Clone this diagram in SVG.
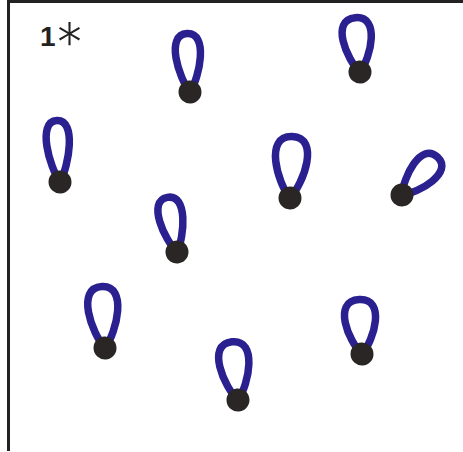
<svg xmlns="http://www.w3.org/2000/svg" width="463" height="452" viewBox="0 0 463 452">
<style>
.loop{fill:none;stroke:#2a2090;stroke-width:7.5;stroke-linecap:round;stroke-linejoin:round}
.dot{fill:#2a2626}
.frame{stroke:#222;stroke-width:3;fill:none}
</style>
<rect width="463" height="452" fill="#ffffff"/>
<g id="frame">
<line class="frame" x1="8.5" y1="0" x2="8.5" y2="451"/>
<line class="frame" x1="7" y1="1.5" x2="463" y2="1.5"/>
</g>
<text x="40" y="46" font-family="Liberation Sans, Arial, sans-serif" font-weight="bold" font-size="28" fill="#222">1<tspan font-family="Inter, sans-serif" font-weight="200" font-size="56" dy="17">*</tspan></text>
<g id="loop1" transform="translate(190,92) rotate(-3)">
<path class="loop" d="M0,0 C-10.5,-14.6 -22,-58.5 0,-58.5 C22,-58.5 10.5,-14.6 0,0"/>
<circle class="dot" cx="0" cy="0" r="11.5"/>
</g>
<g id="loop2" transform="translate(360,72) rotate(-5)">
<path class="loop" d="M0,0 C-12.2,-13.6 -25.4,-54.5 0,-54.5 C25.4,-54.5 12.2,-13.6 0,0"/>
<circle class="dot" cx="0" cy="0" r="11.5"/>
</g>
<g id="loop3" transform="translate(402,195) rotate(43)">
<path class="loop" d="M0,0 C-10.9,-13 -22.8,-52 0,-52 C22.8,-52 10.9,-13 0,0"/>
<circle class="dot" cx="0" cy="0" r="11.5"/>
</g>
<g id="loop4" transform="translate(60,182) rotate(-3)">
<path class="loop" d="M0,0 C-9.7,-15.4 -20.2,-61.5 0,-61.5 C20.2,-61.5 9.7,-15.4 0,0"/>
<circle class="dot" cx="0" cy="0" r="11.5"/>
</g>
<g id="loop5" transform="translate(290,198) rotate(2)">
<path class="loop" d="M0,0 C-13.4,-15.4 -28.1,-61.5 0,-61.5 C28.1,-61.5 13.4,-15.4 0,0"/>
<circle class="dot" cx="0" cy="0" r="11.5"/>
</g>
<g id="loop6" transform="translate(177,252) rotate(-10)">
<path class="loop" d="M0,0 C-10.1,-13.9 -21.1,-55.5 0,-55.5 C21.1,-55.5 10.1,-13.9 0,0"/>
<circle class="dot" cx="0" cy="0" r="11.5"/>
</g>
<g id="loop7" transform="translate(105,348) rotate(-3)">
<path class="loop" d="M0,0 C-12.6,-15.4 -26.3,-61.5 0,-61.5 C26.3,-61.5 12.6,-15.4 0,0"/>
<circle class="dot" cx="0" cy="0" r="11.5"/>
</g>
<g id="loop8" transform="translate(238,400) rotate(-6)">
<path class="loop" d="M0,0 C-12.6,-14.6 -26.3,-58.5 0,-58.5 C26.3,-58.5 12.6,-14.6 0,0"/>
<circle class="dot" cx="0" cy="0" r="11.5"/>
</g>
<g id="loop9" transform="translate(362,354) rotate(-3)">
<path class="loop" d="M0,0 C-13,-13.6 -27.2,-54.5 0,-54.5 C27.2,-54.5 13,-13.6 0,0"/>
<circle class="dot" cx="0" cy="0" r="11.5"/>
</g>
</svg>
